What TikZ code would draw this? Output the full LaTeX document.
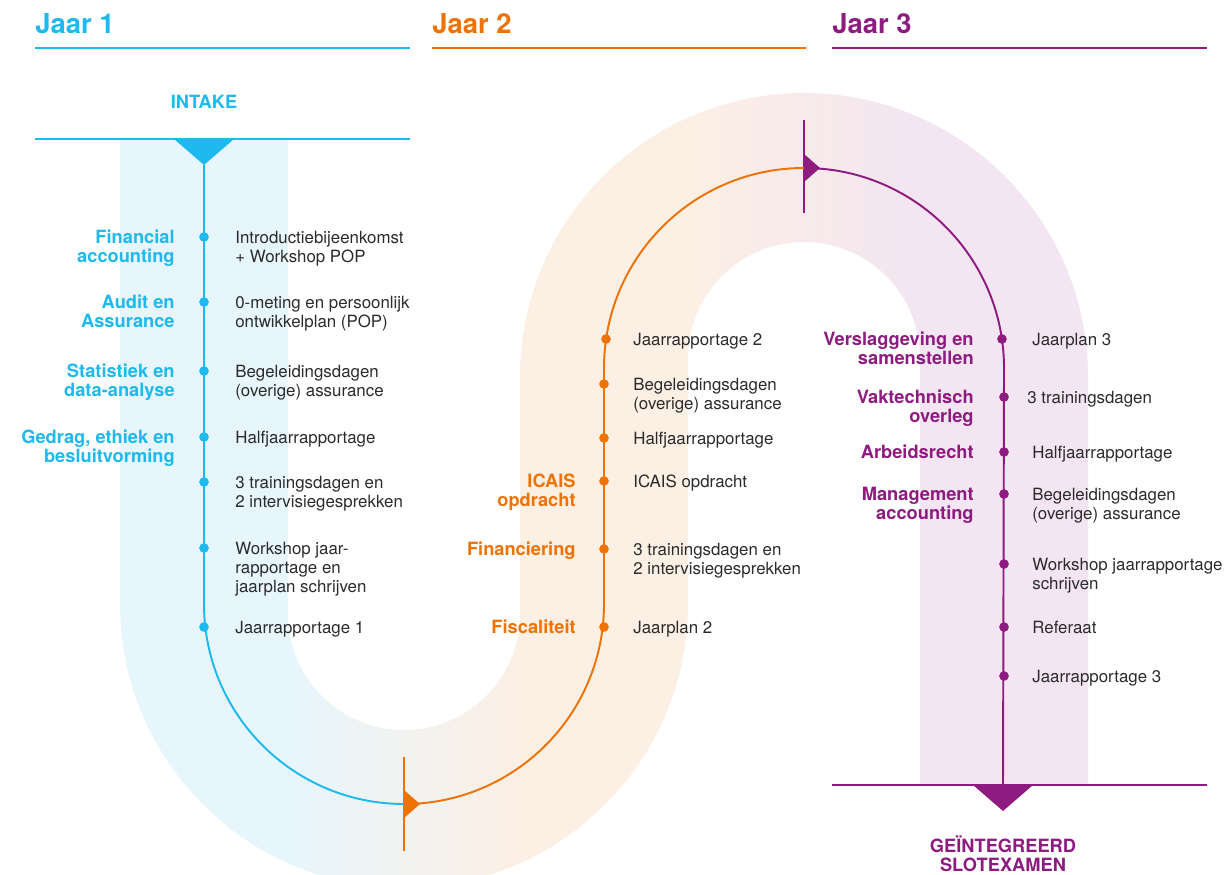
\documentclass[tikz,border=0pt]{standalone}
\usepackage{fontspec}
\setmainfont{TeX Gyre Heros}
\usetikzlibrary{positioning}

\definecolor{jblue}{HTML}{1EB9EE}
\definecolor{jorange}{HTML}{EF7203}
\definecolor{jpurple}{HTML}{8E1B7F}
\definecolor{lblue}{HTML}{E7F6FC}
\definecolor{lorange}{HTML}{FCEFE4}
\definecolor{lpurple}{HTML}{F3E5F1}
\definecolor{txt}{HTML}{2B2B2B}

\tikzset{
  dot/.style={circle, fill=#1, inner sep=0pt, minimum size=5.5pt},
  item/.style={anchor=base west, align=left, inner sep=0pt, text=txt,
    font=\fontsize{9.6}{10.8}\selectfont},
  topic/.style={anchor=base east, align=right, inner sep=0pt, text=#1,
    font=\bfseries\fontsize{10.4}{10.8}\selectfont},
  year/.style={anchor=base west, inner sep=0pt, text=#1,
    font=\bfseries\fontsize{15.6}{18}\selectfont},
  route/.style={line width=1.1pt}
}

\begin{document}
\begin{tikzpicture}[x=0.02cm, y=-0.02cm]
  \clip (0,0) rectangle (1230,875);

  % Band
  \begin{scope}
    \clip (120,139) -- (120,604) arc[start angle=180, end angle=0, radius=284]
      -- (688,358) arc[start angle=180, end angle=360, radius=116]
      -- (920,785) -- (1088,785)
      -- (1088,377) arc[start angle=0, end angle=-180, radius=284]
      -- (520,614) arc[start angle=0, end angle=180, radius=116]
      -- (288,139) -- cycle;
    \fill[lblue] (100,100) rectangle (290,900);
    \shade[left color=lblue, right color=lorange] (290,100) rectangle (520,900);
    \fill[lorange] (520,60) rectangle (690,900);
    \shade[left color=lorange, right color=lpurple] (690,60) rectangle (920,900);
    \fill[lpurple] (920,60) rectangle (1100,900);
  \end{scope}

  % Headings
  \node[year=jblue] (jaar1) at (35,34) {Jaar 1};
  \node[year=jorange] (jaar2) at (432,34) {Jaar 2};
  \node[year=jpurple] (jaar3) at (832,34) {Jaar 3};
  \draw[jblue, line width=0.9pt] (35,48) -- (410,48);
  \draw[jorange, line width=0.9pt] (432,48) -- (806,48);
  \draw[jpurple, line width=0.9pt] (832,48) -- (1207,48);

  \node[anchor=base, inner sep=0pt, text=jblue, font=\bfseries\fontsize{10.4}{10.8}\selectfont]
    (intake) at (204,109) {INTAKE};
  \draw[jblue, line width=0.9pt] (35,139) -- (410,139);
  \fill[jblue] (174,139) -- (234,139) -- (204,165) -- cycle;
  \coordinate (start) at (204,165);

  \node[anchor=base, align=center, inner sep=0pt, text=jpurple,
    font=\bfseries\fontsize{10.4}{10.3}\selectfont]
    (examen) at (1003,871) {GEÏNTEGREERD\\SLOTEXAMEN};
  \draw[jpurple, line width=0.9pt] (832,785) -- (1207,785);
  \fill[jpurple] (973,785) -- (1033,785) -- (1003,811) -- cycle;
  \coordinate (finish) at (1003,785);

  % Markers
  \coordinate (turn1) at (404,804);
  \coordinate (turn2) at (804,168);
  \draw[jorange, line width=1.1pt] (404,757) -- (404,851);
  \draw[jpurple, line width=1.1pt] (804,120) -- (804,213);

  % Route
  \draw[route, jblue] (start) -- (204,604) arc[start angle=180, end angle=90, radius=200];
  \draw[route, jorange] (turn1) arc[start angle=90, end angle=0, radius=200]
    -- (604,368) arc[start angle=180, end angle=270, radius=200];
  \draw[route, jpurple] (turn2) arc[start angle=270, end angle=360, radius=200]
    -- (finish);
  \fill[jorange] (404,790) -- (420,804) -- (404,818) -- cycle;
  \fill[jpurple] (804,154) -- (820,168) -- (804,182) -- cycle;

  % Jaar 1 (base = last line)
  \node[dot=jblue] (d11) at (204,237) {};
  \node[dot=jblue] (d12) at (204,302) {};
  \node[dot=jblue] (d13) at (204,371) {};
  \node[dot=jblue] (d14) at (204,437) {};
  \node[dot=jblue] (d15) at (204,482) {};
  \node[dot=jblue] (d16) at (204,548) {};
  \node[dot=jblue] (d17) at (204,627) {};

  \node[topic=jblue] (finacc) at (175,262) {Financial\\accounting};
  \node[topic=jblue] (audit) at (175,327) {Audit en\\Assurance};
  \node[topic=jblue] (stat) at (175,396) {Statistiek en\\data-analyse};
  \node[topic=jblue] (gedrag) at (175,462) {Gedrag, ethiek en\\besluitvorming};

  \node[item] (intro) at (235,262) {Introductiebijeenkomst\\+ Workshop POP};
  \node[item] (nulmeting) at (235,327) {0-meting en persoonlijk\\ontwikkelplan (POP)};
  \node[item] (begel1) at (235,396) {Begeleidingsdagen\\(overige) assurance};
  \node[item] (half1) at (235,443) {Halfjaarrapportage};
  \node[item] (train1) at (235,507) {3 trainingsdagen en\\2 intervisiegesprekken};
  \node[item] (workshop1) at (235,592) {Workshop jaar-\\rapportage en\\jaarplan schrijven};
  \node[item] (rapport1) at (235,633) {Jaarrapportage 1};

  % Jaar 2
  \node[dot=jorange] (d21) at (606,339) {};
  \node[dot=jorange] (d22) at (604,384) {};
  \node[dot=jorange] (d23) at (604,438) {};
  \node[dot=jorange] (d24) at (604,481) {};
  \node[dot=jorange] (d25) at (604,549) {};
  \node[dot=jorange] (d26) at (604,627) {};

  \node[topic=jorange] (icais) at (576,506) {ICAIS\\opdracht};
  \node[topic=jorange] (financiering) at (576,555) {Financiering};
  \node[topic=jorange] (fiscaliteit) at (576,633) {Fiscaliteit};

  \node[item] (rapport2) at (633,345) {Jaarrapportage 2};
  \node[item] (begel2) at (633,409) {Begeleidingsdagen\\(overige) assurance};
  \node[item] (half2) at (633,444) {Halfjaarrapportage};
  \node[item] (opdracht) at (633,487) {ICAIS opdracht};
  \node[item] (train2) at (633,574) {3 trainingsdagen en\\2 intervisiegesprekken};
  \node[item] (plan2) at (633,633) {Jaarplan 2};

  % Jaar 3
  \node[dot=jpurple] (d31) at (1002,339) {};
  \node[dot=jpurple] (d32) at (1004,397) {};
  \node[dot=jpurple] (d33) at (1004,452) {};
  \node[dot=jpurple] (d34) at (1004,494) {};
  \node[dot=jpurple] (d35) at (1004,564) {};
  \node[dot=jpurple] (d36) at (1004,627) {};
  \node[dot=jpurple] (d37) at (1004,676) {};

  \node[topic=jpurple] (verslag) at (974,364) {Verslaggeving en\\samenstellen};
  \node[topic=jpurple] (vaktech) at (974,422) {Vaktechnisch\\overleg};
  \node[topic=jpurple] (arbeid) at (974,458) {Arbeidsrecht};
  \node[topic=jpurple] (mgmt) at (974,519) {Management\\accounting};

  \node[item] (plan3) at (1032,345) {Jaarplan 3};
  \node[item] (train3) at (1027,403) {3 trainingsdagen};
  \node[item] (half3) at (1032,458) {Halfjaarrapportage};
  \node[item] (begel3) at (1032,519) {Begeleidingsdagen\\(overige) assurance};
  \node[item] (workshop3) at (1032,589) {Workshop jaarrapportage\\schrijven};
  \node[item] (referaat) at (1032,633) {Referaat};
  \node[item] (rapport3) at (1032,682) {Jaarrapportage 3};
\end{tikzpicture}
\end{document}
